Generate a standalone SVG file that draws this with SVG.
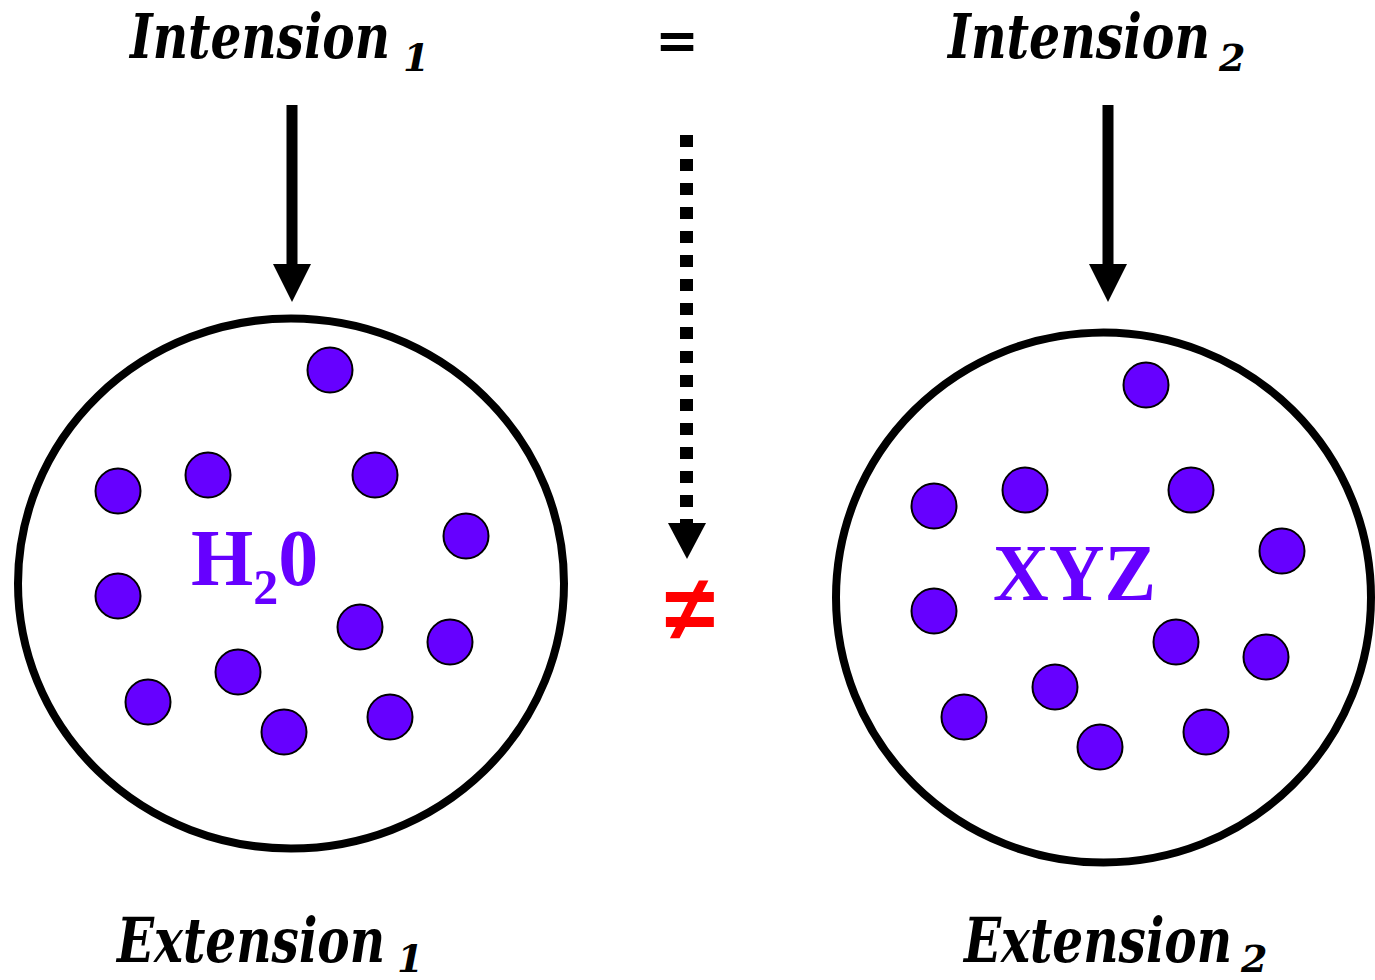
<svg xmlns="http://www.w3.org/2000/svg" width="1375" height="980" viewBox="0 0 1375 980">
<defs>
<style>
.lbl{font-family:"DejaVu Serif","Liberation Serif",serif;font-weight:bold;font-style:italic;font-size:62px;fill:#000}
.sub{font-family:"DejaVu Serif","Liberation Serif",serif;font-weight:bold;font-style:italic;font-size:38px;fill:#000}
.chem{font-family:"Liberation Serif",serif;font-weight:bold;fill:#6600FF}
.set{fill:none;stroke:#000;stroke-width:8}
.dot{fill:#6600FF;stroke:#000;stroke-width:2}
.shaft{fill:#000}
</style>
</defs>
<rect width="1375" height="980" fill="#fff"/>

<g id="intension1">
<text class="lbl" x="130" y="58" textLength="260" lengthAdjust="spacingAndGlyphs">Intension</text>
<text class="sub" x="403" y="71">1</text>
</g>
<g id="equals">
<text x="677" y="58" text-anchor="middle" style="font-family:'DejaVu Sans',sans-serif;font-weight:bold;font-size:52px">=</text>
</g>
<g id="intension2">
<text class="lbl" x="948" y="58" textLength="262" lengthAdjust="spacingAndGlyphs">Intension</text>
<text class="sub" x="1219" y="71">2</text>
</g>

<g id="extension1-set">
<ellipse class="set" cx="291" cy="583.5" rx="273" ry="265"/>
<circle class="dot" cx="330" cy="370" r="22.5"/>
<circle class="dot" cx="118" cy="491" r="22.5"/>
<circle class="dot" cx="208" cy="475" r="22.5"/>
<circle class="dot" cx="375" cy="475" r="22.5"/>
<circle class="dot" cx="466" cy="536" r="22.5"/>
<circle class="dot" cx="118" cy="596" r="22.5"/>
<circle class="dot" cx="360" cy="627" r="22.5"/>
<circle class="dot" cx="450" cy="642" r="22.5"/>
<circle class="dot" cx="238" cy="672" r="22.5"/>
<circle class="dot" cx="148" cy="702" r="22.5"/>
<circle class="dot" cx="284" cy="732" r="22.5"/>
<circle class="dot" cx="390" cy="717" r="22.5"/>
<text class="chem" x="191" y="585" font-size="80">H<tspan font-size="50" dy="19">2</tspan><tspan dy="-19">0</tspan></text>
</g>

<g id="extension2-set">
<ellipse class="set" cx="1103.5" cy="597.5" rx="267.5" ry="265"/>
<circle class="dot" cx="1146" cy="385" r="22.5"/>
<circle class="dot" cx="934" cy="506" r="22.5"/>
<circle class="dot" cx="1025" cy="490" r="22.5"/>
<circle class="dot" cx="1191" cy="490" r="22.5"/>
<circle class="dot" cx="1282" cy="551" r="22.5"/>
<circle class="dot" cx="934" cy="611" r="22.5"/>
<circle class="dot" cx="1176" cy="642" r="22.5"/>
<circle class="dot" cx="1266" cy="657" r="22.5"/>
<circle class="dot" cx="1055" cy="687" r="22.5"/>
<circle class="dot" cx="964" cy="717" r="22.5"/>
<circle class="dot" cx="1100" cy="747" r="22.5"/>
<circle class="dot" cx="1206" cy="732" r="22.5"/>
<text class="chem" x="993" y="600" font-size="80" textLength="163" lengthAdjust="spacingAndGlyphs">XYZ</text>
</g>

<g id="neq">
<text x="690" y="640" text-anchor="middle" style="font-family:'Liberation Sans',sans-serif;font-weight:bold;font-size:92px;fill:#FF0000">≠</text>
</g>

<g id="extension1">
<text class="lbl" x="117" y="962" textLength="268" lengthAdjust="spacingAndGlyphs">Extension</text>
<text class="sub" x="397" y="972">1</text>
</g>
<g id="extension2">
<text class="lbl" x="964" y="962" textLength="268" lengthAdjust="spacingAndGlyphs">Extension</text>
<text class="sub" x="1241" y="972">2</text>
</g>

<g id="connectors">
<rect class="shaft" x="286.5" y="105" width="11" height="163"/>
<polygon points="273,264 311,264 292,302" fill="#000"/>
<rect class="shaft" x="1102.5" y="105" width="11" height="163"/>
<polygon points="1089,264 1127,264 1108,302" fill="#000"/>
<line x1="686.5" y1="135" x2="686.5" y2="524" stroke="#000" stroke-width="13" stroke-dasharray="12 12"/>
<polygon points="668,523 706,523 687,559" fill="#000"/>
</g>
</svg>
